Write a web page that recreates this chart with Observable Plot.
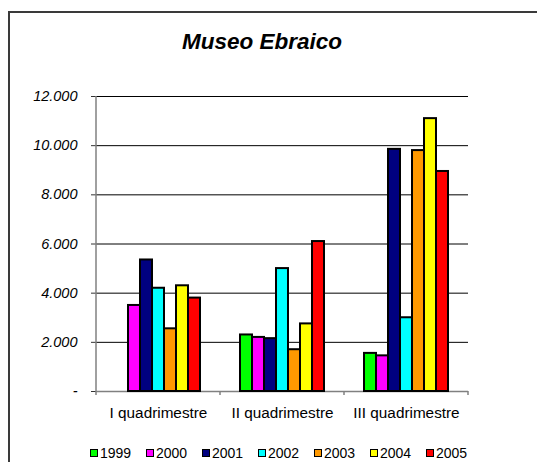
<!DOCTYPE html>
<html>
<head>
<meta charset="utf-8">
<script src="https://cdn.jsdelivr.net/npm/d3@7"></script>
<script src="https://cdn.jsdelivr.net/npm/@observablehq/plot@0.6"></script>
<style>
  html, body { margin: 0; padding: 0; background: #fff; overflow: hidden; }
  #wrap { position: relative; width: 537px; height: 462px; overflow: hidden; font-family: "Liberation Sans", Arial, sans-serif; }
  #frame { position: absolute; left: 8px; top: 11px; width: 600px; height: 500px; border-left: 2px solid #3a3a3a; border-top: 2px solid #3a3a3a; }
  #chart { position: absolute; left: 0; top: 0; }
  #title { position: absolute; left: 0; width: 537px; top: 29px; text-align: center; font-size: 22.5px; font-weight: bold; font-style: italic; color: #000; padding-right: 13px; box-sizing: border-box; }
  #legend { position: absolute; left: 90px; top: 445px; display: flex; font-size: 14px; line-height: 16px; color: #000; }
  .item { display: flex; align-items: center; width: 56px; }
  .sw { width: 6px; height: 6px; border: 1px solid #000; margin-right: 2px; }
</style>
</head>
<body>
<div id="wrap">
  <div id="frame"></div>
  <div id="chart"></div>
  <div id="title">Museo Ebraico</div>
  <div id="legend"></div>
</div>
<script>
const quarters = ["I quadrimestre", "II quadrimestre", "III quadrimestre"];
const years = ["1999", "2000", "2001", "2002", "2003", "2004", "2005"];
const v1999 = [null, 2300, 1550];
const v2000 = [3500, 2200, 1450];
const v2001 = [5350, 2150, 9850];
const v2002 = [4200, 5000, 3000];
const v2003 = [2550, 1700, 9800];
const v2004 = [4300, 2750, 11100];
const v2005 = [3800, 6100, 8950];
const colors = ["#00FF00", "#FF00FF", "#000080", "#00FFFF", "#FF9900", "#FFFF00", "#FF0000"];
const yTicks = [0, 2000, 4000, 6000, 8000, 10000, 12000];

const series = [v1999, v2000, v2001, v2002, v2003, v2004, v2005];
const data = [];
quarters.forEach((q, i) => {
  years.forEach((y, j) => {
    const v = series[j][i];
    if (v != null) data.push({quarter: q, year: y, value: v});
  });
});

const fmt = d => d === 0 ? "-" : d3.format(",")(d).replace(/,/g, ".");

const chart = Plot.plot({
  width: 537,
  height: 462,
  marginTop: 96,
  marginBottom: 71,
  marginLeft: 96,
  marginRight: 69,
  style: {fontFamily: "'Liberation Sans', Arial, sans-serif", fontSize: "15.3px", background: "transparent", color: "#000"},
  fx: {domain: quarters, padding: 0, label: null},
  x: {domain: years, paddingInner: 0, paddingOuter: 1.43, axis: null},
  y: {domain: [0, 12000], axis: null},
  color: {domain: years, range: colors},
  marks: [
    Plot.gridY(yTicks.slice(1), {stroke: "#000", strokeOpacity: 1, strokeWidth: 1}),
    Plot.ruleY([0], {stroke: "#808080", strokeWidth: 1.5}),
    Plot.barY(data, {fx: "quarter", x: "year", y: "value", fill: "year", stroke: "#000", strokeWidth: 2}),
    Plot.axisY(yTicks, {tickSize: 5, tickPadding: 14, tickFormat: fmt, fontStyle: "italic", fontSize: 14.5, label: null, stroke: "#333"}),
    Plot.axisFx({anchor: "bottom", tickSize: 0, tickPadding: 16, label: null})
  ]
});
document.getElementById("chart").appendChild(chart);

// italic y tick labels
const svg = d3.select(chart);
const labels = new Set(yTicks.map(fmt));
svg.selectAll("text").each(function () {
  if (labels.has(this.textContent.trim())) this.style.fontStyle = "italic";
});

// axis line and category boundary ticks from the chart's own scales
const ys = chart.scale("y");
const fxs = chart.scale("fx");
const band = d3.scaleBand().domain(fxs.domain).range(fxs.range).padding(0);
const y0 = ys.apply(0), y1 = ys.apply(12000);
const x0 = band.range()[0];
svg.append("line").attr("x1", x0).attr("x2", x0).attr("y1", y0).attr("y2", y1)
  .attr("stroke", "#808080").attr("stroke-width", 1.5);
const bounds = quarters.map(q => band(q)).concat([band.range()[1]]);
bounds.forEach(b => {
  svg.append("line").attr("x1", b).attr("x2", b).attr("y1", y0).attr("y2", y0 + 4)
    .attr("stroke", "#808080").attr("stroke-width", 1.5);
});

// legend
const legend = document.getElementById("legend");
years.forEach((y, i) => {
  const it = document.createElement("div");
  it.className = "item";
  const sw = document.createElement("div");
  sw.className = "sw";
  sw.style.background = colors[i];
  const t = document.createElement("span");
  t.textContent = y;
  it.appendChild(sw);
  it.appendChild(t);
  legend.appendChild(it);
});
</script>
</body>
</html>
